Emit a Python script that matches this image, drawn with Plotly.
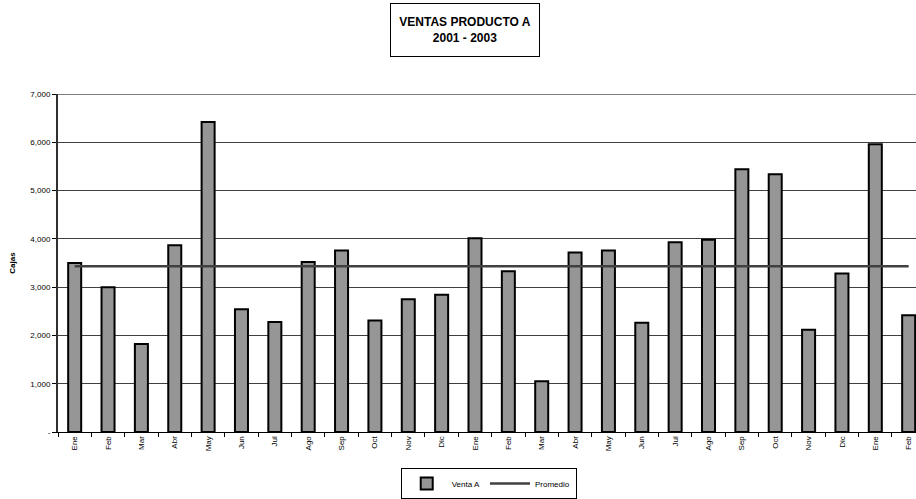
import numpy as np
import plotly.graph_objects as go

# Monthly sales (boxes), Jan 2001 - Feb 2003
meses = ["Ene", "Feb", "Mar", "Abr", "May", "Jun", "Jul", "Ago", "Sep", "Oct", "Nov", "Dic",
         "Ene", "Feb", "Mar", "Abr", "May", "Jun", "Jul", "Ago", "Sep", "Oct", "Nov", "Dic",
         "Ene", "Feb"]
venta_a = [3500, 3000, 1820, 3870, 6420, 2540, 2280, 3520, 3760, 2310, 2750, 2840,
           4010, 3330, 1050, 3720, 3760, 2260, 3930, 3980, 5440, 5340, 2120, 3280,
           5960, 2420]
y_ticks = [0, 1000, 2000, 3000, 4000, 5000, 6000, 7000]
y_tick_text = ["-", "1,000", "2,000", "3,000", "4,000", "5,000", "6,000", "7,000"]

pos = list(range(len(meses)))
promedio = float(np.mean(venta_a))

FONT = "Liberation Sans, Arial, sans-serif"

fig = go.Figure()
fig.add_trace(go.Bar(
    x=pos, y=venta_a, name="Venta A", width=0.39,
    marker=dict(color="#969696", line=dict(color="#000000", width=2)),
))
fig.add_trace(go.Scatter(
    x=[pos[0], pos[-1]], y=[promedio, promedio], mode="lines", name="Promedio",
    line=dict(color="#404040", width=2.5),
))

fig.update_layout(
    width=916, height=499,
    margin=dict(l=58, r=0, t=94, b=63),
    paper_bgcolor="white", plot_bgcolor="white",
    font=dict(family=FONT, size=8, color="#000000"),
    showlegend=True,
    legend=dict(
        orientation="h", x=0.502, xanchor="center", y=-0.108, yanchor="top",
        bordercolor="#000000", borderwidth=1, font=dict(size=8),
        itemwidth=40, tracegroupgap=0,
    ),
    annotations=[dict(
        text="<b>VENTAS PRODUCTO A</b><br><b>2001 - 2003</b>",
        xref="paper", yref="paper", x=(465 - 58) / 858, y=(436 - 29) / 342,
        xanchor="center", yanchor="middle", showarrow=False,
        font=dict(family=FONT, size=12, color="#000000"),
        bordercolor="#000000", borderwidth=1, borderpad=4,
        width=140, height=44, bgcolor="white",
    )],
    shapes=[dict(
        type="line", xref="paper", yref="y", x0=0, x1=1, y0=7000, y1=7000,
        line=dict(color="#808080", width=2),
    )],
)

fig.update_xaxes(
    range=[-0.5, 25.22], tickmode="array", tickvals=pos, ticktext=meses,
    tickangle=-90, ticks="", showgrid=False, zeroline=False,
    showline=True, linecolor="#000000", linewidth=1,
    tickfont=dict(size=8),
    minor=dict(tick0=0.5, dtick=1, ticks="outside", ticklen=4,
               tickcolor="#000000", showgrid=False),
)
fig.update_yaxes(
    range=[0, 7000], tickmode="array", tickvals=y_ticks, ticktext=y_tick_text,
    ticks="outside", ticklen=4, tickcolor="#000000",
    showgrid=True, gridcolor="#404040", gridwidth=1, zeroline=False,
    showline=True, linecolor="#303030", linewidth=2,
    tickfont=dict(size=8),
    title=dict(text="<b>Cajas</b>", font=dict(size=8), standoff=14),
)

fig.write_html("out.html")
